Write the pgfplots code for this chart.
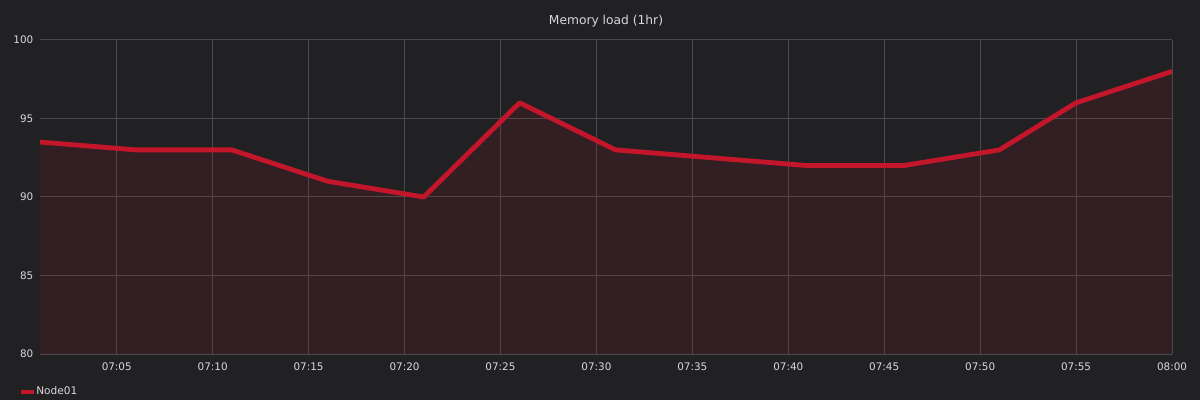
\documentclass[border=0pt]{standalone}
\usepackage{fontspec}
\setmainfont{DejaVu Sans}
\usepackage{pgfplots}
\pgfplotsset{compat=1.18}

\definecolor{bgc}{HTML}{212124}
\definecolor{gridc}{HTML}{4A4A4D}
\definecolor{linec}{HTML}{C4162A}
\definecolor{txtc}{HTML}{D8D9DA}

\begin{document}
\begin{tikzpicture}[x=1pt,y=1pt]
% page = 1200x400 px at 0.75pt per px
\fill[bgc] (0,0) rectangle (900,300);
\path[use as bounding box] (0,0) rectangle (900,300);
\begin{axis}[
    at={(30pt,34.5pt)}, anchor=south west,
    scale only axis,
    width=849pt, height=235.5pt,
    xmin=1, xmax=60, ymin=80, ymax=100,
    xtick={5,10,...,60},
    xticklabels={07:05,07:10,07:15,07:20,07:25,07:30,07:35,07:40,07:45,07:50,07:55,08:00},
    ytick={80,85,...,100},
    major tick length=0pt,
    axis line style={draw=none},
    grid=major,
    major grid style={gridc, line width=0.75pt},
    /pgf/number format/assume math mode=true,
    tick label style={font=\fontsize{7.8}{9}\selectfont, text=txtc},
    xticklabel style={yshift=-3pt},
    yticklabel style={xshift=-1.5pt},
    title={Memory load (1hr)},
    title style={at={(0.5,1)}, anchor=center, yshift=8.5pt, font=\fontsize{9.2}{11}\selectfont, text=txtc},
    legend style={at={(-0.017,-0.121)}, anchor=west, draw=none, fill=none,
        font=\fontsize{7.9}{9}\selectfont, text=txtc, inner sep=0pt},
    legend image code/.code={\path[fill=linec, draw=none, line width=0pt] (0pt,-1.6pt) rectangle (9.5pt,1.6pt);},
]
\addplot[draw=none, fill=linec, fill opacity=0.1, forget plot] coordinates {
    (1,93.5) (6,93) (11,93) (16,91) (21,90) (26,96) (31,93)
    (41,92) (46,92) (51,93) (55,96) (60,98)
} \closedcycle;
\addplot[linec, line width=3.6pt, line join=round] coordinates {
    (1,93.5) (6,93) (11,93) (16,91) (21,90) (26,96) (31,93)
    (41,92) (46,92) (51,93) (55,96) (60,98)
};
\addlegendentry{Node01}
\end{axis}
\end{tikzpicture}
\end{document}
